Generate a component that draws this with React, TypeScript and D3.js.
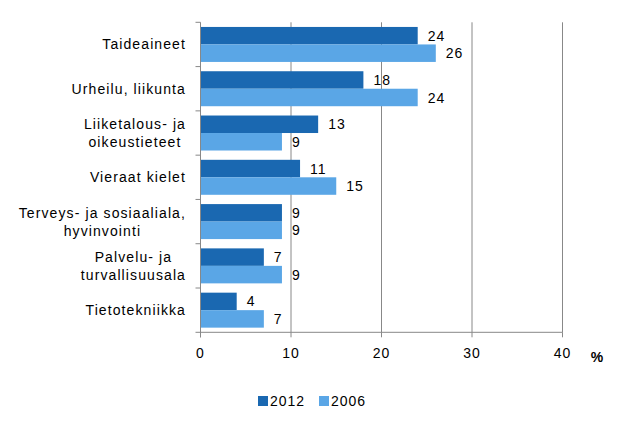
import React, { useEffect, useRef } from "react";
import * as d3 from "d3";

const categories: string[][] = [
  ["Taideaineet"],
  ["Urheilu, liikunta"],
  ["Liiketalous- ja", "oikeustieteet"],
  ["Vieraat kielet"],
  ["Terveys- ja sosiaaliala,", "hyvinvointi"],
  ["Palvelu- ja", "turvallisuusala"],
  ["Tietotekniikka"],
];
const values2012 = [24, 18, 13, 11, 9, 7, 4];
const values2006 = [26, 24, 9, 15, 9, 9, 7];
const seriesNames = ["2012", "2006"];
const xTicks = [0, 10, 20, 30, 40];
const colors = ["#1A68B1", "#5AA6E6"];

const W = 621, H = 426;
const left = 200.5, right = 562.5, top = 22.3, bottom = 332.3;
const FONT = "Liberation Sans, Arial, sans-serif";
const LS = "1px";

export default function App() {
  const ref = useRef<SVGSVGElement>(null);
  useEffect(() => {
    const svg = d3.select(ref.current);
    svg.selectAll("*").remove();
    const x = d3.scaleLinear().domain([0, 40]).range([left, right]);
    const idx = categories.map((_, i) => String(i));
    const y = d3.scaleBand().domain(idx).range([top, bottom]).paddingInner(0.21).paddingOuter(0.105);
    const inner = d3.scaleBand().domain(seriesNames).range([0, y.bandwidth()]);
    const grey = "#888888";

    // gridlines
    svg.append("g").selectAll("line").data(xTicks.slice(1)).join("line")
      .attr("x1", d => x(d)).attr("x2", d => x(d)).attr("y1", top).attr("y2", bottom)
      .attr("stroke", grey).attr("stroke-width", 1);

    // bars
    const series = [values2012, values2006];
    series.forEach((vals, s) => {
      const g = svg.append("g");
      g.selectAll("rect").data(vals).join("rect")
        .attr("x", x(0)).attr("y", (_, i) => (y(String(i)) as number) + (inner(seriesNames[s]) as number))
        .attr("width", d => x(d) - x(0)).attr("height", inner.bandwidth())
        .attr("fill", colors[s]);
      g.selectAll("text").data(vals).join("text")
        .attr("x", d => x(d) + 10)
        .attr("y", (_, i) => (y(String(i)) as number) + (inner(seriesNames[s]) as number) + inner.bandwidth() / 2)
        .attr("dy", "0.36em")
        .attr("font-family", FONT).attr("font-size", 14).attr("letter-spacing", LS).attr("fill", "#000")
        .text(d => String(d));
    });

    // axes lines
    svg.append("line").attr("x1", left).attr("x2", left).attr("y1", top).attr("y2", bottom + 5)
      .attr("stroke", grey);
    svg.append("line").attr("x1", left).attr("x2", right).attr("y1", bottom).attr("y2", bottom)
      .attr("stroke", grey);
    // category ticks
    const catTicks = d3.range(categories.length + 1).map(i => top + (bottom - top) * i / categories.length);
    svg.append("g").selectAll("line").data(catTicks).join("line")
      .attr("x1", left - 5).attr("x2", left).attr("y1", d => d).attr("y2", d => d).attr("stroke", grey);
    // x ticks
    svg.append("g").selectAll("line").data(xTicks).join("line")
      .attr("x1", d => x(d)).attr("x2", d => x(d)).attr("y1", bottom).attr("y2", bottom + 5).attr("stroke", grey);
    svg.append("g").selectAll("text").data(xTicks).join("text")
      .attr("x", d => x(d)).attr("y", 358)
      .attr("text-anchor", "middle").attr("font-family", FONT).attr("font-size", 14).attr("letter-spacing", LS)
      .text(d => String(d));
    svg.append("text").attr("x", 597).attr("y", 362).attr("text-anchor", "middle")
      .attr("font-family", FONT).attr("font-size", 14).attr("font-weight", "bold").text("%");

    // category labels
    const lineH = 18;
    categories.forEach((lines, i) => {
      const cy = top + (bottom - top) * (i + 0.5) / categories.length;
      const g = svg.append("g");
      const texts = lines.map((l, k) =>
        g.append("text")
          .attr("y", cy + (k - (lines.length - 1) / 2) * lineH)
          .attr("dy", "0.36em")
          .attr("font-family", FONT).attr("font-size", 14).attr("letter-spacing", "1.1px")
          .attr("text-anchor", "middle")
          .text(l)
      );
      const widths = texts.map(t => (t.node() as SVGTextElement).getComputedTextLength());
      const maxW = Math.max(...widths);
      const cx = 186 - maxW / 2;
      texts.forEach(t => t.attr("x", cx));
    });

    // legend
    const legX = [258, 319];
    seriesNames.forEach((n, s) => {
      svg.append("rect").attr("x", legX[s]).attr("y", 396).attr("width", 10).attr("height", 10).attr("fill", colors[s]);
      svg.append("text").attr("x", legX[s] + 12).attr("y", 401).attr("dy", "0.36em")
        .attr("font-family", FONT).attr("font-size", 14).attr("letter-spacing", LS).text(n);
    });
  }, []);
  return (
    <svg ref={ref} width={W} height={H} style={{ position: "absolute", left: 0, top: 0, background: "#fff" }} />
  );
}
